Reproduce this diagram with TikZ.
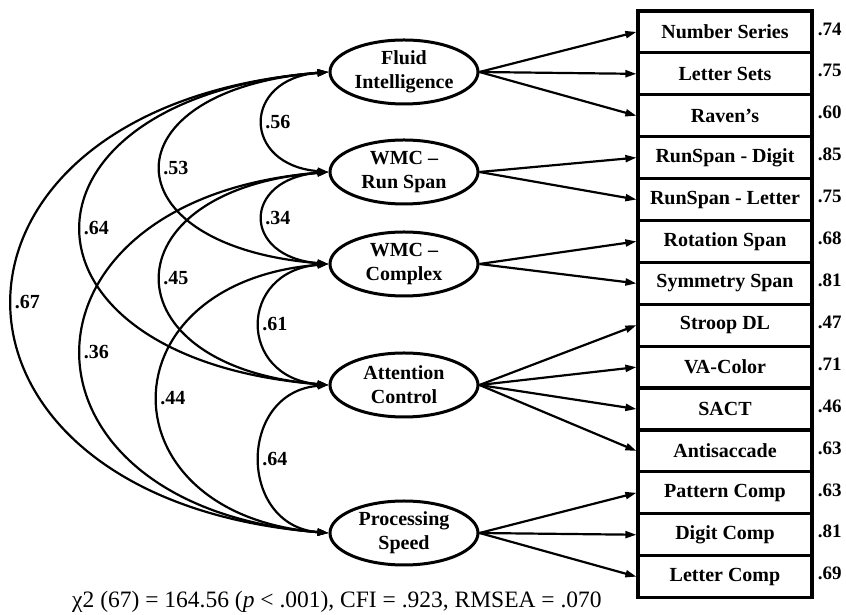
\documentclass[tikz,border=0pt]{standalone}
\usepackage{fontspec}
\setmainfont{Liberation Serif}
\usetikzlibrary{shapes.geometric, positioning, arrows.meta, calc}

\tikzset{
  factor/.style={ellipse, draw, line width=3pt, minimum width=148pt, minimum height=64pt, inner sep=0pt, align=center, font=\fontsize{20}{24}\selectfont\bfseries},
  task/.style={rectangle, draw, line width=3.2pt, minimum width=174pt, minimum height=41.9pt, inner sep=0pt, font=\fontsize{20}{24}\selectfont\bfseries},
  load/.style={line width=2.2pt, -{Triangle[length=11pt,width=7pt]}},
  cov/.style={line width=2.2pt, {Triangle[length=11pt,width=7pt]}-{Triangle[length=11pt,width=7pt]}},
  coef/.style={font=\fontsize{20}{24}\selectfont\bfseries, inner sep=1pt, anchor=west},
}

\begin{document}
\begin{tikzpicture}[x=1pt, y=1pt]
        \useasboundingbox (0,0) rectangle (846,615);

        % latent factors
        \node[factor] (F) at (404,543) {Fluid\\Intelligence};
        \node[factor] (R) at (404,443) {WMC –\\Run Span};
        \node[factor] (C) at (404,351) {WMC –\\Complex};
        \node[factor] (A) at (404,230) {Attention\\Control};
        \node[factor] (P) at (404,82) {Processing\\Speed};

        % tasks and loadings
        \foreach \i/\t/\v in {0/Number Series/.74,1/Letter Sets/.75,2/Raven’s/.60,3/RunSpan - Digit/.85,4/RunSpan - Letter/.75,5/Rotation Span/.68,6/Symmetry Span/.81,7/Stroop DL/.47,8/VA-Color/.71,9/SACT/.46,10/Antisaccade/.63,11/Pattern Comp/.63,12/Digit Comp/.81,13/Letter Comp/.69}
        {
            \node[task] (t\i) at (725,{583.05-41.9*\i}) {\t};
            \node[coef, font=\fontsize{19}{22}\selectfont\bfseries, inner sep=0pt] (l\i) at ($(t\i.east) + (4,3)$) {\v};
        }

        \foreach \f/\list in {F/{0,1,2},R/{3,4},C/{5,6},A/{7,8,9,10},P/{11,12,13}}
        {
            \foreach \i in \list
            {
                \draw[load] (\f.east) -- (t\i.west);
            }
        }

        % correlations
        \foreach \a/\b/\c/\v in {F/R/87/.56,R/C/87/.34,C/A/91/.61,A/P/91/.64,F/C/223/.53,R/A/223/.45,C/P/227/.44,F/A/329/.64,R/P/329/.36,F/P/421/.67}
        {
            \draw[cov] (\a.west) .. controls +({-\c},{-0.08*\c}) and +({-\c},{0.08*\c}) .. node[coef] {\v} (\b.west);
        }

        % fit indices
        \node[font=\fontsize{23.5}{28}\selectfont, anchor=base, inner sep=0] (fit) at (337,7) {χ2 (67) = 164.56 (\textit{p} < .001), CFI = .923, RMSEA = .070};
\end{tikzpicture}
\end{document}
